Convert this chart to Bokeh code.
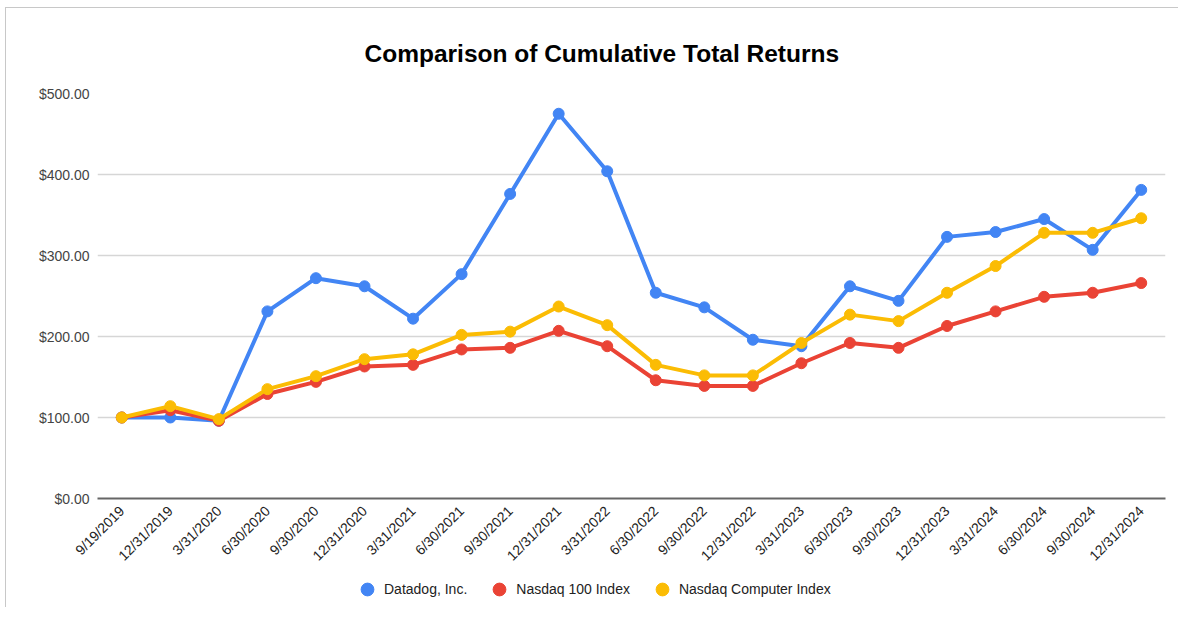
from bokeh.plotting import figure
from bokeh.models import FactorRange, Range1d, FixedTicker, NumeralTickFormatter, Legend, LegendItem
from bokeh.layouts import column
from bokeh.embed import file_html
from bokeh.resources import INLINE
import math

dates = ["9/19/2019", "12/31/2019", "3/31/2020", "6/30/2020", "9/30/2020", "12/31/2020",
         "3/31/2021", "6/30/2021", "9/30/2021", "12/31/2021", "3/31/2022", "6/30/2022",
         "9/30/2022", "12/31/2022", "3/31/2023", "6/30/2023", "9/30/2023", "12/31/2023",
         "3/31/2024", "6/30/2024", "9/30/2024", "12/31/2024"]
datadog = [100, 100, 96, 231, 272, 262, 222, 277, 376, 475, 404, 254,
           236, 196, 188, 262, 244, 323, 329, 345, 307, 381]
nasdaq100 = [100, 109, 96, 129, 144, 163, 165, 184, 186, 207, 188, 146,
             139, 139, 167, 192, 186, 213, 231, 249, 254, 266]
computer = [100, 114, 98, 135, 151, 172, 178, 202, 206, 237, 214, 165,
            152, 152, 192, 227, 219, 254, 287, 328, 328, 346]
series_names = ["Datadog, Inc.", "Nasdaq 100 Index", "Nasdaq Computer Index"]
colors = ["#4285F4", "#EA4335", "#FBBC04"]
y_ticks = [0, 100, 200, 300, 400, 500]

FONT = "Liberation Sans"
BORDER = "1px solid #c8c8c8"

p = figure(width=1173, height=564, output_backend="svg", toolbar_location=None,
           x_range=FactorRange(*dates, range_padding=0), y_range=Range1d(0, 500),
           min_border_left=91, min_border_right=14, min_border_top=85, min_border_bottom=66)
p.styles = {"border-left": BORDER, "border-top": BORDER}
p.outline_line_color = None

p.title.text = "Comparison of Cumulative Total Returns"
p.title.text_font = FONT
p.title.text_font_size = "24.5px"
p.title.text_font_style = "bold"
p.title.text_color = "#000000"
p.title.align = "left"
p.title.offset = 267
p.title.standoff = 54

p.yaxis.ticker = FixedTicker(ticks=y_ticks)
p.yaxis.formatter = NumeralTickFormatter(format="$0.00")
p.yaxis.axis_line_color = None
p.yaxis.major_tick_line_color = None
p.yaxis.minor_tick_line_color = None
p.yaxis.major_tick_out = 0
p.yaxis.major_tick_in = 0
p.yaxis.major_label_text_font = FONT
p.yaxis.major_label_text_font_size = "14px"
p.yaxis.major_label_text_color = "#444444"
p.yaxis.major_label_standoff = 8

p.xaxis.axis_line_color = "#666666"
p.xaxis.axis_line_width = 2
p.xaxis.major_tick_line_color = None
p.xaxis.minor_tick_line_color = None
p.xaxis.major_tick_out = 0
p.xaxis.major_tick_in = 0
p.xaxis.major_label_orientation = math.pi / 4
p.xaxis.major_label_text_font = FONT
p.xaxis.major_label_text_font_size = "14px"
p.xaxis.major_label_text_color = "#222222"
p.xaxis.major_label_standoff = 10

p.xgrid.grid_line_color = None
p.ygrid.ticker = FixedTicker(ticks=y_ticks)
p.ygrid.grid_line_color = "#d6d6d6"
p.ygrid.grid_line_width = 1.5

for name, vals, c in zip(series_names, [datadog, nasdaq100, computer], colors):
    p.line(dates, vals, line_color=c, line_width=4)
    p.scatter(dates, vals, marker="circle", size=11, fill_color=c, line_color=c)

# legend strip below the chart
lg = figure(width=1173, height=36, output_backend="svg", toolbar_location=None,
            x_range=Range1d(0, 1), y_range=Range1d(0, 1),
            min_border_left=0, min_border_right=0, min_border_top=0, min_border_bottom=0)
lg.styles = {"border-left": BORDER}
lg.outline_line_color = None
lg.axis.visible = False
lg.grid.visible = False
items = []
for name, c in zip(series_names, colors):
    r = lg.scatter(x=[-5], y=[-5], marker="circle", size=13, fill_color=c, line_color=c)
    items.append(LegendItem(label=name, renderers=[r]))
legend = Legend(items=items, orientation="horizontal", location=(254, 2),
                label_text_font=FONT, label_text_font_size="14px", label_text_color="#222222",
                border_line_color=None, background_fill_alpha=0,
                spacing=16, glyph_width=32, glyph_height=32, label_standoff=1,
                padding=0, margin=0)
lg.add_layout(legend)

layout = column(p, lg, spacing=0, margin=(7, 0, 0, 5))
open("out.html", "w").write(file_html(layout, INLINE))
